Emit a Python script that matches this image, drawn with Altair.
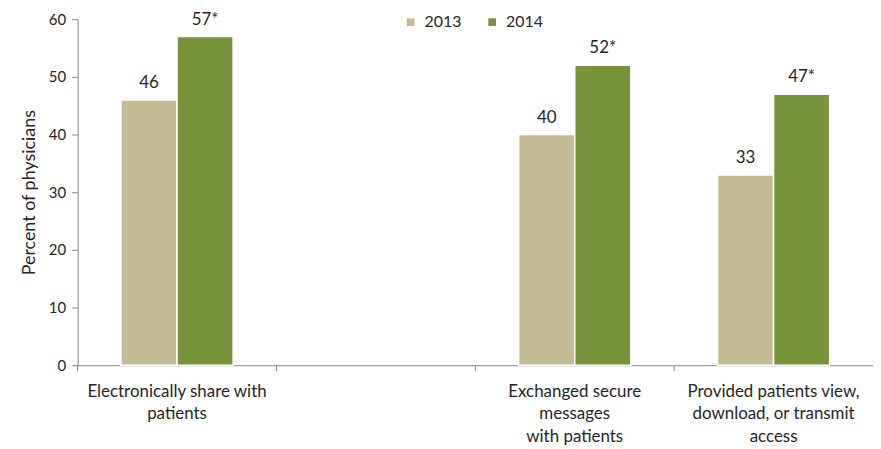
import altair as alt
import pandas as pd

categories = ["Electronically share with|patients", "_gap_",
              "Exchanged secure|messages|with patients",
              "Provided patients view,|download, or transmit|access"]
data_categories = [categories[0], categories[0], categories[2], categories[2], categories[3], categories[3]]
years = ["2013", "2014", "2013", "2014", "2013", "2014"]
values = [46, 57, 40, 52, 33, 47]
labels = ["46", "57*", "40", "52*", "33", "47*"]
colors = ["#C4BC96", "#77933C"]

df = pd.DataFrame({"cat": data_categories, "year": years, "value": values, "label": labels})
ticks_df = pd.DataFrame({"cat": categories})

FONT = "Lato"
AXIS_GRAY = "#888888"
TXT = "#262626"

xscale = alt.Scale(domain=categories, paddingInner=0.436, paddingOuter=0.218)

x = alt.X("cat:N", sort=categories, scale=xscale,
          axis=alt.Axis(title=None, labelAngle=0, ticks=False, tickSize=0,
                        labelPadding=18, labelLineHeight=23, labelBaseline="top",
                        labelFontSize=17, labelColor=TXT, labelFont=FONT, labelLimit=400,
                        domainColor=AXIS_GRAY,
                        labelExpr="datum.label == '_gap_' ? '' : split(datum.label, '|')"))

base = alt.Chart(df).encode(
    x=x,
    xOffset=alt.XOffset("year:N", scale=alt.Scale(paddingInner=0, paddingOuter=0)),
)

bars = base.mark_bar(stroke="white", strokeWidth=1.5).encode(
    y=alt.Y("value:Q", scale=alt.Scale(domain=[0, 60], nice=False),
            axis=alt.Axis(title="Percent of physicians", values=[0, 10, 20, 30, 40, 50, 60],
                          grid=False, tickSize=6, labelPadding=6, labelFontSize=15,
                          labelColor=TXT, labelFont=FONT, titleFont=FONT,
                          titleFontSize=18, titleFontWeight="normal", titleColor=TXT,
                          titlePadding=10, domainColor=AXIS_GRAY, tickColor=AXIS_GRAY)),
    color=alt.Color("year:N", scale=alt.Scale(domain=["2013", "2014"], range=colors),
                    legend=alt.Legend(title=None, orient="none", direction="horizontal",
                                      legendX=327, legendY=-5, symbolType="square",
                                      symbolSize=60, symbolStrokeWidth=0,
                                      labelFontSize=16, labelFont=FONT, labelColor=TXT,
                                      labelOffset=6, columnPadding=22)),
)

text = base.mark_text(baseline="bottom", dy=-8, fontSize=17, font=FONT, color=TXT).encode(
    y=alt.Y("value:Q"),
    text=alt.Text("label:N"),
)

tick_marks = alt.Chart(ticks_df).mark_rule(color=AXIS_GRAY, strokeWidth=1).encode(
    x=alt.X("cat:N", sort=categories,
            scale=alt.Scale(domain=categories, paddingInner=0, paddingOuter=0),
            bandPosition=0, axis=None),
    y=alt.value(348),
    y2=alt.value(354),
)

chart = alt.layer(alt.layer(bars, text), tick_marks).resolve_scale(x="independent").properties(
    width=800, height=348,
    padding={"left": 70, "top": 10, "right": 0, "bottom": 83},
    autosize=alt.AutoSizeParams(type="none"),
).configure_view(strokeWidth=0)

chart.save("out.html", embed_options={"renderer": "svg", "actions": False})
